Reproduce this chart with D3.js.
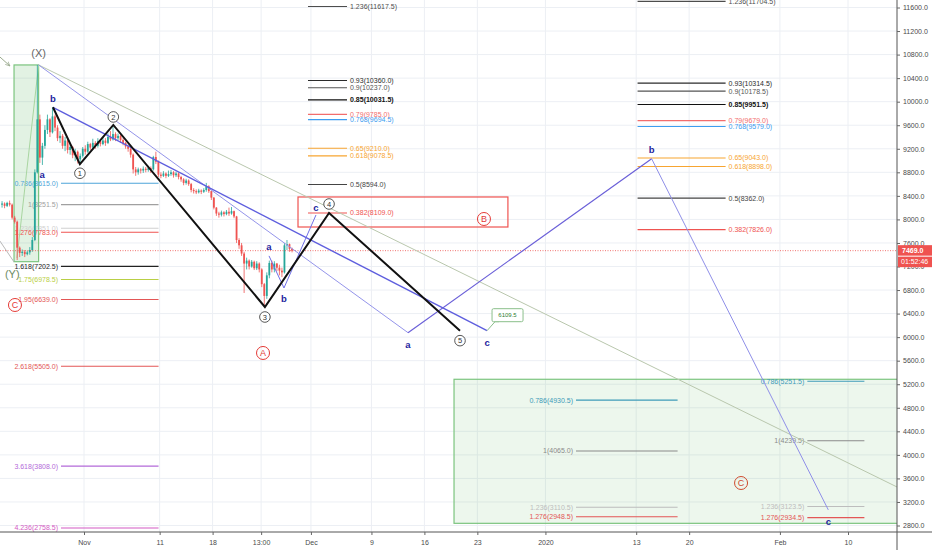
<!DOCTYPE html>
<html><head><meta charset="utf-8">
<script src="https://cdn.jsdelivr.net/npm/d3@7"></script>
<style>body{margin:0;background:#fff;} svg{display:block;font-family:"Liberation Sans",Arial,sans-serif;}</style>
</head><body><svg id="c" width="932" height="550"></svg>
<script>
// ---------------- DATA ----------------
const candleStart = "2019-10-21T00:00:00Z";
const candleHours = 8;
const firstOpen = 8250;
const closes = [8270,8230,8280,8250,8030,7960,7520,7430,7450,7410,7440,7480,7650,8800,9700,9050,9250,9520,9700,9480,9750,9560,9380,9420,9250,9340,9180,9230,9090,9150,9020,9080,9200,9150,9280,9220,9300,9250,9330,9280,9340,9300,9400,9360,9450,9380,9420,9350,9300,9240,9200,9100,8850,8800,8850,8830,8860,8840,8870,8850,9060,8980,8760,8740,8780,8740,8770,8800,8750,8780,8720,8680,8620,8660,8600,8500,8480,8460,8490,8470,8500,8560,8480,8370,8200,8100,8080,8120,8090,8130,8100,8140,8050,7650,7560,7420,7250,7300,7200,7280,7170,7250,7150,6900,6700,7050,7260,7150,7250,7180,7130,7100,7560,7580,7500,7469];
const highs = [8310,8290,8300,8320,8270,8060,7980,7540,7490,7480,7470,7530,7700,8850,10624,9780,9300,9600,9780,9720,9905,9780,9600,9500,9450,9400,9360,9290,9250,9200,9170,9120,9230,9260,9320,9300,9370,9330,9380,9360,9400,9380,9460,9500,9605,9480,9460,9440,9380,9320,9270,9220,9120,8890,8880,8870,8900,8890,8910,8900,9080,9150,9000,8800,8820,8800,8830,8840,8820,8810,8800,8740,8700,8690,8680,8620,8530,8510,8520,8510,8530,8620,8580,8490,8380,8210,8130,8150,8140,8160,8200,8210,8150,8060,7680,7600,7450,7350,7320,7310,7300,7290,7270,7170,6920,7100,7300,7300,7290,7260,7230,7180,7600,7650,7590,7520];
const lows = [8200,8190,8210,8220,8000,7930,7310,7360,7380,7360,7390,7400,7450,7630,8780,8960,8925,9200,9450,9400,9460,9500,9330,9300,9200,9160,9120,9100,9040,8990,8950,8940,9050,9100,9130,9180,9190,9200,9220,9240,9260,9250,9280,9330,9340,9330,9350,9300,9260,9200,9150,9050,8780,8740,8760,8780,8790,8800,8810,8790,8830,8940,8720,8700,8720,8700,8720,8740,8710,8720,8680,8640,8580,8590,8570,8460,8440,8430,8440,8430,8450,8470,8450,8330,8170,8060,8030,8050,8050,8070,8060,8080,8020,7600,7500,7380,6750,7150,7150,7180,7140,7140,7100,6850,6510,6650,7000,7100,7100,7120,7050,7020,7080,7480,7450,7440];

const priceTicks = [2800,3200,3600,4000,4400,4800,5200,5600,6000,6400,6800,7200,7600,8000,8400,8800,9200,9600,10000,10400,10800,11200,11600];
const timeTickDates = ["2019-11-01T00:00Z","2019-11-11T00:00Z","2019-11-18T00:00Z","2019-11-24T10:00Z","2019-12-01T00:00Z","2019-12-09T00:00Z","2019-12-16T00:00Z","2019-12-23T00:00Z","2020-01-01T00:00Z","2020-01-13T00:00Z","2020-01-20T00:00Z","2020-02-01T00:00Z","2020-02-10T00:00Z"];
const timeTickLabels = ["Nov","11","18","13:00","Dec","9","16","23","2020","13","20","Feb","10"];

const lastPrice = 7469.0;
const countdown = "01:52:46";

// Elliott wave (black) points
const waveTimes = ["2019-10-27T21:30Z","2019-10-31T11:00Z","2019-11-04T21:00Z","2019-11-24T22:00Z","2019-12-03T09:30Z","2019-12-20T17:00Z"];
const waveValues = [9905,8937,9605,6512,8109,6110];
const waveLabels = ["","1","2","3","4","5"];

// key pivots
const pX = ["2019-10-26T00:00Z",10624];
const pA0 = ["2019-10-26T10:50Z",8925];
const pB0 = ["2019-10-27T21:30Z",9905];
const smallAbcTimes = ["2019-11-25T11:00Z","2019-11-27T10:30Z","2019-12-01T16:00Z"];
const smallAbcValues = [7380,6835,8075];
const projTimes = ["2019-12-13T20:00Z","2020-01-15T01:00Z","2020-02-07T09:30Z"];
const projValues = [6076,9030,3065];
const pC6109 = ["2019-12-24T06:45Z",6109.5];
const trendEnd = ["2020-02-16T12:00Z",3453];

// fib sets
const midFibRatios = ["1.236","0.93","0.9","0.85","0.79","0.768","0.65","0.618","0.5","0.382"];
const midFibValues = [11617.5,10360.0,10237.0,10031.5,9785.0,9694.5,9210.0,9078.5,8594.0,8109.0];
const midFibSpan = ["2019-11-30T14:40Z","2019-12-05T18:30Z"];
const rightFibRatios = ["1.236","0.93","0.9","0.85","0.79","0.768","0.65","0.618","0.5","0.382"];
const rightFibValues = [11704.5,10314.5,10178.5,9951.5,9679.0,9579.0,9043.0,8898.0,8362.0,7826.0];
const rightFibSpan = ["2020-01-13T04:20Z","2020-01-24T19:40Z"];
const leftFibRatios = ["0.786","1","1.236","1.276","1.618","1.75","1.95","2.618","3.618","4.236"];
const leftFibValues = [8615.0,8251.5,7851.0,7783.0,7202.5,6978.5,6639.0,5505.0,3808.0,2758.5];
const leftFibSpan = ["2019-10-28T23:00Z","2019-11-10T20:30Z"];
const boxFibRatios = ["0.786","1","1.236","1.276"];
const boxFibLeftValues = [4930.5,4065.0,3110.5,2948.5];
const boxFibLeftSpan = ["2020-01-05T01:00Z","2020-01-18T11:20Z"];
const boxFibRightValues = [5251.5,4239.5,3123.5,2934.5];
const boxFibRightSpan = ["2020-02-04T15:00Z","2020-02-12T04:00Z"];

// zones
const zoneB = {t0:"2019-11-29T07:00Z", t1:"2019-12-27T01:00Z", v0:7871, v1:8381};
const zoneGreenR = {t0:"2019-12-19T22:00Z", t1:"2020-02-20T00:00Z", v0:2837, v1:5284};
const zoneGreenL = {t0:"2019-10-22T18:00Z", t1:"2019-10-26T00:00Z", v0:7282, v1:10624};

// circled letters
const redLetters = ["A","B","C","C"];
const redLetterTimes = ["2019-11-24T16:00Z","2019-12-23T21:00Z","2019-10-22T21:00Z","2020-01-26T20:40Z"];
const redLetterValues = [5731,8007,6546,3522];

// misc drawing anchors
const greenDiag = [["2019-10-23T03:20Z",7345],["2019-10-26T00:00Z",10624]];
const leftFaint = [["2019-10-20T21:00Z",7634],["2019-10-22T18:00Z",7277]];
const arrowTL = [["2019-10-20T21:00Z",10760],["2019-10-22T05:00Z",10607]];
const yLabelAnchor = ["2019-10-22T12:30Z",7073];

// ---------------- STYLE ----------------
const mrColors = {"1.236":"#4d4d4d","0.93":"#2b2b2b","0.9":"#555","0.85":"#111","0.79":"#f26d6d","0.768":"#3d9df0","0.65":"#f7a531","0.618":"#f7a531","0.5":"#444","0.382":"#ef5350"};
const leftColors = {"0.786":"#4ea5d9","1":"#a0a0a0","1.236":"#d0d0d0","1.276":"#ef5350","1.618":"#222","1.75":"#b9cf45","1.95":"#e35656","2.618":"#e35656","3.618":"#b36ad9","4.236":"#d45ac4"};
const boxColors = {"0.786":"#3e9bb8","1":"#8a8a8a","1.236":"#bdbdbd","1.276":"#e35656"};

// ---------------- DRAW ----------------
const T = s => new Date(s);
const svg = d3.select("#c");
const W = 932, H = 550, plotR = 897, plotB = 532;
const x = d3.scaleUtc().domain([T("2019-11-01T00:00Z"), T("2020-02-10T00:00Z")]).range([84, 848]);
const y = d3.scaleLinear().domain([2800, 11600]).range([525.5, 7.5]);
const line = d3.line().x(d => x(T(d[0]))).y(d => y(d[1]));

svg.append("defs").append("clipPath").attr("id","plot").append("rect").attr("width",plotR).attr("height",plotB);
svg.select("defs").append("marker").attr("id","arr").attr("viewBox","0 0 10 10").attr("refX",9).attr("refY",5)
  .attr("markerWidth",5).attr("markerHeight",5).attr("orient","auto")
  .append("path").attr("d","M0,1L9,5L0,9").attr("fill","none").attr("stroke","#9aaa8e").attr("stroke-width",1.5);

const g = svg.append("g").attr("clip-path","url(#plot)");

// grid
g.append("g").selectAll("line").data(priceTicks).join("line")
  .attr("x1",0).attr("x2",plotR).attr("y1",d=>y(d)).attr("y2",d=>y(d)).attr("stroke","#eceff4").attr("stroke-width",1);
g.append("g").selectAll("line").data(timeTickDates).join("line")
  .attr("y1",0).attr("y2",plotB).attr("x1",d=>x(T(d))).attr("x2",d=>x(T(d))).attr("stroke","#eceff4").attr("stroke-width",1);

// zones
function zone(z, fill, stroke){
  g.append("rect").attr("x",x(T(z.t0))).attr("y",y(z.v1)).attr("width",x(T(z.t1))-x(T(z.t0))).attr("height",y(z.v0)-y(z.v1))
   .attr("fill",fill).attr("stroke",stroke).attr("stroke-width",1.2);
}
zone(zoneGreenR,"rgba(76,175,80,0.10)","#7cc47f");
zone(zoneGreenL,"rgba(76,175,80,0.16)","#7cc47f");
zone(zoneB,"rgba(255,255,255,0.0)","#ef5350");

// fibs
function fib(ratios, values, span, side, colors, boldRatio){
  const x0 = x(T(span[0])), x1 = x(T(span[1]));
  const gg = g.append("g");
  ratios.forEach((r,i)=>{
    const v = values[i], yy = y(v), c = colors[r];
    gg.append("line").attr("x1",x0).attr("x2",x1).attr("y1",yy).attr("y2",yy).attr("stroke",c).attr("stroke-width",1.1);
    gg.append("text").attr("x", side==="right" ? x1+3 : x0-3).attr("y",yy).attr("dy","0.35em")
      .attr("text-anchor", side==="right" ? "start" : "end").attr("font-size",7).attr("fill",c)
      .attr("font-weight", r===boldRatio ? "bold" : "normal")
      .text(`${r}(${v.toFixed(1)})`);
  });
}
fib(midFibRatios, midFibValues, midFibSpan, "right", mrColors, "0.85");
fib(rightFibRatios, rightFibValues, rightFibSpan, "right", mrColors, "0.85");
fib(leftFibRatios, leftFibValues, leftFibSpan, "left", leftColors, null);
fib(boxFibRatios, boxFibLeftValues, boxFibLeftSpan, "left", boxColors, null);
fib(boxFibRatios, boxFibRightValues, boxFibRightSpan, "left", boxColors, null);

// misc faint lines
g.append("path").attr("d",line(greenDiag)).attr("stroke","#a8d5a0").attr("fill","none").attr("stroke-width",1);
g.append("path").attr("d",line(leftFaint)).attr("stroke","#b8b8b8").attr("fill","none").attr("stroke-width",1);
g.append("path").attr("d",line(arrowTL)).attr("stroke","#9aaa8e").attr("fill","none").attr("stroke-width",1).attr("marker-end","url(#arr)");

// candles
const t0 = T(candleStart).getTime();
const candles = closes.map((c,i)=>({
  t: new Date(t0 + (i*candleHours + candleHours/2)*3600e3),
  o: i===0 ? firstOpen : closes[i-1], c, h: highs[i], l: lows[i]
}));
const cg = g.append("g");
cg.selectAll("line").data(candles).join("line")
  .attr("x1",d=>x(d.t)).attr("x2",d=>x(d.t)).attr("y1",d=>y(d.h)).attr("y2",d=>y(d.l))
  .attr("stroke",d=>d.c>=d.o?"#26a69a":"#ef5350").attr("stroke-width",0.8);
cg.selectAll("rect").data(candles).join("rect")
  .attr("x",d=>x(d.t)-0.9).attr("width",1.8)
  .attr("y",d=>y(Math.max(d.o,d.c))).attr("height",d=>Math.max(0.8,Math.abs(y(d.o)-y(d.c))))
  .attr("fill",d=>d.c>=d.o?"#26a69a":"#ef5350");

// current price dotted line
g.append("line").attr("x1",0).attr("x2",plotR).attr("y1",y(lastPrice)).attr("y2",y(lastPrice))
  .attr("stroke","#ef5350").attr("stroke-dasharray","1,1.5").attr("stroke-width",1).attr("opacity",0.8);

// long trend line from X
g.append("path").attr("d",line([pX, trendEnd])).attr("stroke","#b9c7ad").attr("fill","none").attr("stroke-width",1);

// blue trend/projection lines
g.append("path").attr("d",line([pX,[projTimes[0],projValues[0]]])).attr("stroke","#9494ea").attr("fill","none").attr("stroke-width",1);
g.append("path").attr("d",line([pB0,pC6109])).attr("stroke","#5e5ede").attr("fill","none").attr("stroke-width",1.4);
g.append("path").attr("d",line([[projTimes[0],projValues[0]],[projTimes[1],projValues[1]]])).attr("stroke","#6a5fd8").attr("fill","none").attr("stroke-width",1.2);
g.append("path").attr("d",line([[projTimes[1],projValues[1]],[projTimes[2],projValues[2]]])).attr("stroke","#8f8fe8").attr("fill","none").attr("stroke-width",1);
g.append("path").attr("d",line(smallAbcTimes.map((t,i)=>[t,smallAbcValues[i]]))).attr("stroke","#6e6ee6").attr("fill","none").attr("stroke-width",1);

// black wave
const wpts = waveTimes.map((t,i)=>[t,waveValues[i]]);
g.append("path").attr("d",line(wpts)).attr("stroke","#111").attr("fill","none").attr("stroke-width",2).attr("stroke-linejoin","miter");

// callout 6109.5
{
  const cx = x(T(pC6109[0])), cy = y(pC6109[1]);
  g.append("path").attr("d",`M${cx},${cy}L${cx+8},${cy-9}L${cx+12},${cy-9}`).attr("stroke","#8bbf8b").attr("fill","none");
  g.append("rect").attr("x",cx+5).attr("y",cy-22).attr("width",31).attr("height",13).attr("rx",1.5)
    .attr("fill","#fff").attr("stroke","#8bbf8b").attr("stroke-width",1);
  g.append("text").attr("x",cx+20.5).attr("y",cy-15.3).attr("dy","0.35em").attr("text-anchor","middle")
    .attr("font-size",6).attr("fill","#2e7d32").text(pC6109[1].toFixed(1));
}

// circled wave numbers
const offs = [0, 9, -8, 10, -9, 10];
wpts.forEach((p,i)=>{
  if(!waveLabels[i]) return;
  const cx = x(T(p[0])), cy = y(p[1]) + offs[i];
  g.append("circle").attr("cx",cx).attr("cy",cy).attr("r",5.3).attr("fill","#fff").attr("stroke","#444").attr("stroke-width",0.9);
  g.append("text").attr("x",cx).attr("y",cy).attr("dy","0.36em").attr("text-anchor","middle").attr("font-size",7.5).attr("fill","#333").text(waveLabels[i]);
});

// blue letters
function blue(txt, p, dy){
  g.append("text").attr("x",x(T(p[0]))).attr("y",y(p[1])+dy).attr("dy","0.35em").attr("text-anchor","middle")
    .attr("font-size",9.5).attr("font-weight","bold").attr("fill","#24249e").text(txt);
}
blue("a", pA0, 10);
blue("b", pB0, -9);
blue("a", [smallAbcTimes[0],smallAbcValues[0]], -9);
blue("b", [smallAbcTimes[1],smallAbcValues[1]], 11);
blue("c", [smallAbcTimes[2],smallAbcValues[2]], -7);
blue("a", [projTimes[0],projValues[0]], 12);
blue("c", pC6109, 12);
blue("b", [projTimes[1],projValues[1]], -9);
blue("c", [projTimes[2],projValues[2]], 12);

// (X) (Y)
g.append("text").attr("x",x(T(pX[0]))).attr("y",y(pX[1])-12).attr("dy","0.35em").attr("text-anchor","middle")
  .attr("font-size",11).attr("fill","#666").text("(X)");
g.append("text").attr("x",x(T(yLabelAnchor[0]))).attr("y",y(yLabelAnchor[1])).attr("dy","0.35em").attr("text-anchor","middle")
  .attr("font-size",11).attr("fill","#6d8b5f").text("(Y)");

// red circled letters
redLetters.forEach((L,i)=>{
  const cx = x(T(redLetterTimes[i])), cy = y(redLetterValues[i]);
  const col = i===3 ? "#cf4a2c" : "#e53935";
  g.append("circle").attr("cx",cx).attr("cy",cy).attr("r",6.5).attr("fill","none").attr("stroke",col).attr("stroke-width",1);
  g.append("text").attr("x",cx).attr("y",cy).attr("dy","0.36em").attr("text-anchor","middle").attr("font-size",9).attr("fill",col).text(L);
});

// axes
svg.append("line").attr("x1",plotR).attr("x2",plotR).attr("y1",0).attr("y2",H).attr("stroke","#555").attr("stroke-width",1);
svg.append("line").attr("x1",0).attr("x2",W).attr("y1",plotB).attr("y2",plotB).attr("stroke","#555").attr("stroke-width",1);

const ya = svg.append("g").attr("transform",`translate(${plotR},0)`)
  .call(d3.axisRight(y).tickValues(priceTicks).tickFormat(d3.format(".1f")).tickSize(3).tickPadding(3));
ya.select(".domain").remove();
ya.selectAll("text").attr("font-size",7).attr("fill","#4a4a4a").attr("font-family","Liberation Sans, Arial, sans-serif");
ya.selectAll("line").attr("stroke","#666");

const xa = svg.append("g").attr("transform",`translate(0,${plotB})`)
  .call(d3.axisBottom(x).tickValues(timeTickDates.map(T)).tickFormat((d,i)=>timeTickLabels[i]).tickSize(3).tickPadding(5));
xa.select(".domain").remove();
xa.selectAll("text").attr("font-size",7).attr("fill","#4a4a4a").attr("font-family","Liberation Sans, Arial, sans-serif");
xa.selectAll("line").attr("stroke","#666");

// price / countdown tags
{
  const yy = y(lastPrice);
  svg.append("rect").attr("x",plotR+1).attr("y",yy-5.5).attr("width",W-plotR-1).attr("height",10.5).attr("fill","#ef5350");
  svg.append("text").attr("x",plotR+5).attr("y",yy).attr("dy","0.35em").attr("font-size",7).attr("font-weight","bold").attr("fill","#fff").text(lastPrice.toFixed(1));
  svg.append("rect").attr("x",plotR+1).attr("y",yy+6).attr("width",W-plotR-1).attr("height",10.5).attr("fill","#ef5350");
  svg.append("text").attr("x",plotR+4).attr("y",yy+11.3).attr("dy","0.35em").attr("font-size",7).attr("fill","#fff").text(countdown);
}
</script></body></html>
